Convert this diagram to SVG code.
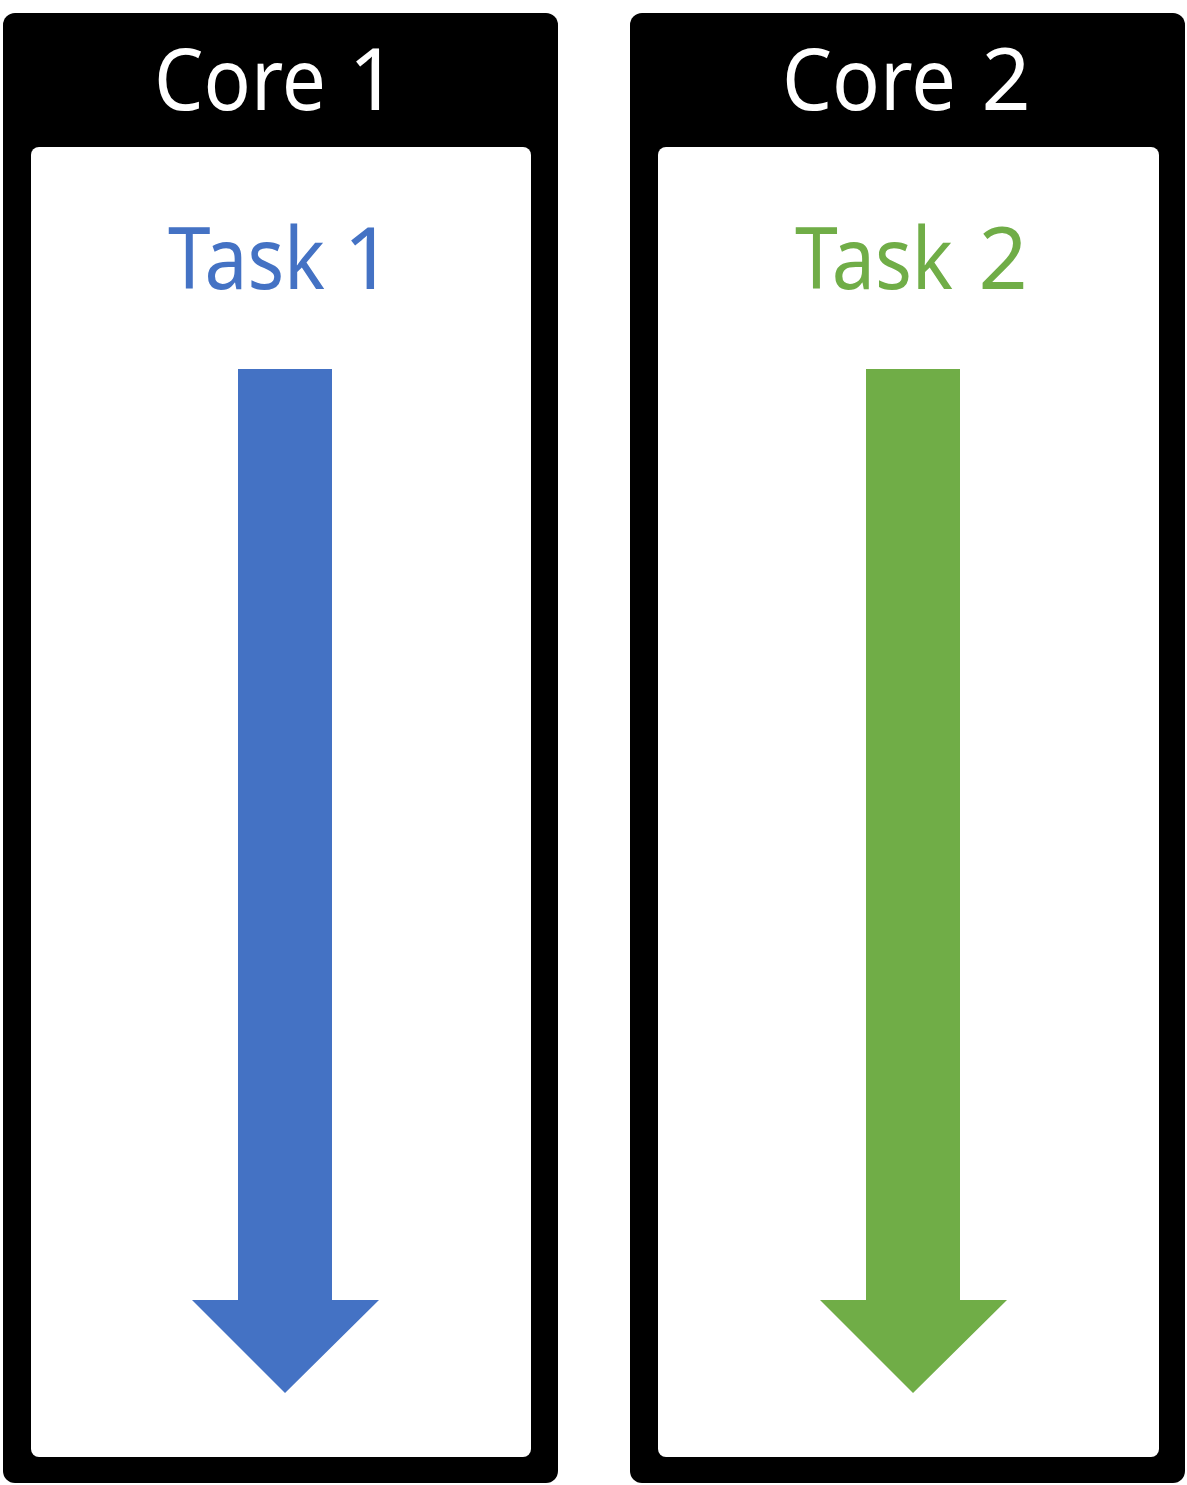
<svg xmlns="http://www.w3.org/2000/svg" width="1187" height="1485" viewBox="0 0 1187 1485">
<style>
.outer{fill:#000}
.inner{fill:#fff}
.title{font-family:"Noto Sans","Open Sans",sans-serif;font-size:86px;fill:#fff}
.task{font-family:"Noto Sans","Open Sans",sans-serif;font-size:86px}
.mid{text-anchor:middle}
</style>
<rect width="1187" height="1485" fill="#fff"/>
<g id="core1">
<rect class="outer" x="3" y="13" width="555" height="1470" rx="12"/>
<rect class="inner" x="31" y="147" width="500" height="1310" rx="8"/>
<text class="title" x="154" y="110" textLength="172" lengthAdjust="spacingAndGlyphs">Core</text>
<text class="title mid" x="373" y="110">1</text>
<text class="task" x="168" y="289" fill="#4472C4" textLength="157" lengthAdjust="spacingAndGlyphs">Task</text>
<text class="task mid" x="368" y="289" fill="#4472C4">1</text>
</g>
<g id="core2">
<rect class="outer" x="630" y="13" width="555" height="1470" rx="12"/>
<rect class="inner" x="658" y="147" width="501" height="1310" rx="8"/>
<text class="title" x="782" y="110" textLength="174" lengthAdjust="spacingAndGlyphs">Core</text>
<text class="title mid" x="1006" y="110">2</text>
<text class="task" x="795" y="289" fill="#70AD47" textLength="158" lengthAdjust="spacingAndGlyphs">Task</text>
<text class="task mid" x="1003" y="289" fill="#70AD47">2</text>
</g>
<g id="connectors">
<polygon id="arrow1" fill="#4472C4" points="238,369 332,369 332,1300 379,1300 285,1393 192,1300 238,1300"/>
<polygon id="arrow2" fill="#70AD47" points="866,369 960,369 960,1300 1007,1300 913,1393 820,1300 866,1300"/>
</g>
</svg>
